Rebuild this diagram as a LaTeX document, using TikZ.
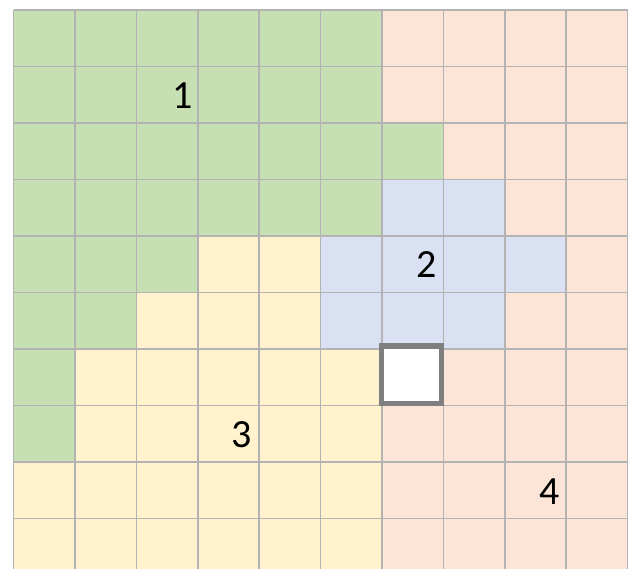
\documentclass[tikz,border=0pt]{standalone}
\usepackage{fontspec}
\setmainfont{Carlito}
\definecolor{cG}{HTML}{C6E0B4}
\definecolor{cP}{HTML}{FCE4D6}
\definecolor{cB}{HTML}{D9E1F2}
\definecolor{cY}{HTML}{FFF2CC}
\definecolor{cW}{HTML}{FFFFFF}
\definecolor{gridgray}{HTML}{B3B3B3}
\definecolor{boxgray}{HTML}{7F7F7F}
\tikzset{
  gridline/.style={draw=gridgray, line width=1.6pt},
  holebox/.style={draw=boxgray, line width=5.5pt, fill=white},
  lbl/.style={font=\fontsize{40}{48}\selectfont, inner sep=0pt, text=black}
}
\begin{document}
\begin{tikzpicture}[x=1pt,y=-1pt]
\useasboundingbox (0,0) rectangle (628,569);
\fill[white] (0,0) rectangle (628,569);
\begin{scope}
\clip (0,0) rectangle (628,569);
\foreach \r/\spec in {
  0/{G,G,G,G,G,G,P,P,P,P},
  1/{G,G,G,G,G,G,P,P,P,P},
  2/{G,G,G,G,G,G,G,P,P,P},
  3/{G,G,G,G,G,G,B,B,P,P},
  4/{G,G,G,Y,Y,B,B,B,B,P},
  5/{G,G,Y,Y,Y,B,B,B,P,P},
  6/{G,Y,Y,Y,Y,Y,W,P,P,P},
  7/{G,Y,Y,Y,Y,Y,P,P,P,P},
  8/{Y,Y,Y,Y,Y,Y,P,P,P,P},
  9/{Y,Y,Y,Y,Y,Y,P,P,P,P}}{
  \foreach \c [count=\i from 0] in \spec {
    \fill[c\c] ({13.5+61.4*\i},{10+56.5*\r}) rectangle ({13.5+61.4*(\i+1)},{10+56.5*(\r+1)});
  }
}
\foreach \i in {0,...,10}{
  \draw[gridline] ({13.5+61.4*\i},10) -- ({13.5+61.4*\i},575);
}
\foreach \r in {0,...,10}{
  \draw[gridline] (13.5,{10+56.5*\r}) -- (627.5,{10+56.5*\r});
}
\end{scope}
\node[holebox, minimum width=60pt, minimum height=57.5pt, inner sep=0pt] (hole) at (411.5,374.75) {};
\node[lbl] (l1) at (182.5,95.5) {1};
\node[lbl] (l2) at (427,265) {2};
\node[lbl] (l3) at (242,435) {3};
\node[lbl] (l4) at (549.5,492) {4};
\end{tikzpicture}
\end{document}
